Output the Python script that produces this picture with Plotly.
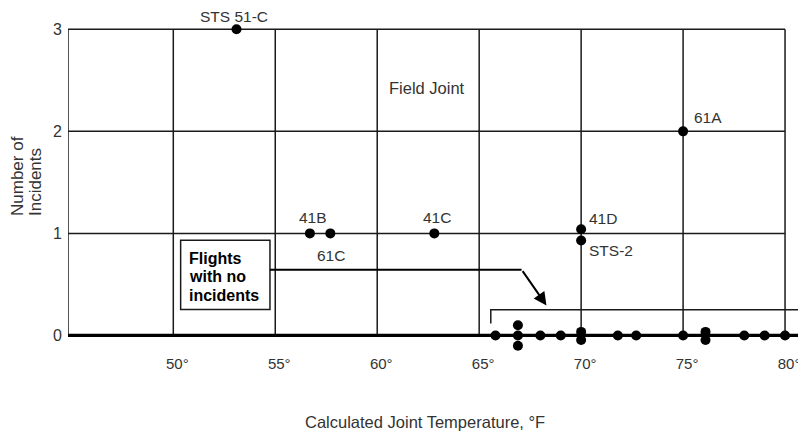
import plotly.graph_objects as go

# ---------------- data ----------------
x_ticks = [50, 55, 60, 65, 70, 75, 80]
x_tick_labels = ["50°", "55°", "60°", "65°", "70°", "75°", "80°"]
y_ticks = [0, 1, 2, 3]
y_tick_labels = ["0", "1", "2", "3"]

incident_flights = ["STS 51-C", "61A", "41B", "61C", "41C", "41D", "STS-2"]
incident_temps = [53.1, 75.0, 56.7, 57.7, 62.8, 70.0, 70.0]
incident_counts = [3, 2, 1, 1, 1, 1, 1]
incident_stack = [0, 0, 0, 0, 0, 0.04, -0.07]

zero_temps = [65.8, 66.9, 66.9, 66.9, 68.0, 69.0, 70.0, 70.0, 71.8, 72.7,
              75.0, 76.1, 76.1, 78.0, 79.0, 80.0, 80.9]
zero_counts = [0, 0, 0, 0, 0, 0, 0, 0, 0, 0, 0, 0, 0, 0, 0, 0, 0]
zero_stack = [0, 0.1, 0, -0.1, 0, 0, 0.035, -0.045, 0, 0,
              0, 0.035, -0.045, 0, 0, 0, 0]

# ---------------- layout constants ----------------
X_MIN, X_MAX = 44.836, 81.42
Y_MIN, Y_MAX = -0.162, 3.2087
FONT = "Liberation Sans, Arial, Helvetica, sans-serif"
TXT = "#333333"
INK = "#1a1a1a"

fig = go.Figure()

fig.add_trace(go.Scatter(
    x=zero_temps,
    y=[c + s for c, s in zip(zero_counts, zero_stack)],
    mode="markers", marker=dict(color="black", size=10),
    hoverinfo="x", showlegend=False))

fig.add_trace(go.Scatter(
    x=incident_temps,
    y=[c + s for c, s in zip(incident_counts, incident_stack)],
    mode="markers", marker=dict(color="black", size=10),
    text=incident_flights, hoverinfo="text+x+y", showlegend=False,
    cliponaxis=False))

shapes = []
grid_line = dict(color=INK, width=1.5)
top = max(y_ticks)
right = max(x_ticks)
# vertical grid lines (left border + ticks)
for xv in [X_MIN] + x_ticks:
    shapes.append(dict(type="line", xref="x", yref="y", x0=xv, x1=xv,
                       y0=0, y1=top, line=grid_line, layer="below"))
# horizontal grid lines
for yv in y_ticks[1:]:
    shapes.append(dict(type="line", xref="x", yref="y", x0=X_MIN, x1=right,
                       y0=yv, y1=yv, line=grid_line, layer="below"))
# thick zero baseline
shapes.append(dict(type="line", xref="x", yref="y", x0=X_MIN, x1=X_MAX,
                   y0=0, y1=0, line=dict(color="black", width=3.2), layer="below"))
# bracket over the no-incident flights
shapes.append(dict(type="path", xref="x", yref="y",
                   path=f"M 65.57,0.118 L 65.57,0.252 L {X_MAX},0.252",
                   line=dict(color=INK, width=1.5), layer="below"))
# callout box
shapes.append(dict(type="rect", xref="x", yref="y", x0=50.36, x1=54.74,
                   y0=0.255, y1=0.932, line=dict(color=INK, width=1.5),
                   fillcolor="white", layer="below"))
# connector from box
shapes.append(dict(type="line", xref="x", yref="y", x0=54.74, x1=67.08,
                   y0=0.645, y1=0.645, line=dict(color="black", width=2)))

annotations = []
label_place = {
    "STS 51-C": ("center", -3, 13),
    "61A": ("left", 9, 14),
    "41B": ("center", 3, 16),
    "61C": ("center", 1, -22),
    "41C": ("center", 3, 16),
    "41D": ("left", 6, 15),
    "STS-2": ("left", 6, -17),
}
for name, xv, yv in zip(incident_flights, incident_temps, incident_counts):
    xa, xs, ys = label_place[name]
    annotations.append(dict(x=xv, y=yv, xref="x", yref="y", text=name,
                            showarrow=False, xanchor=xa, yanchor="middle",
                            xshift=xs, yshift=ys,
                            font=dict(family=FONT, size=15.5, color=TXT)))

annotations.append(dict(x=62.44, y=2.425, xref="x", yref="y", text="Field Joint",
                        showarrow=False, font=dict(family=FONT, size=16.5, color=TXT)))

# box text, one line per annotation
for i, line in enumerate(["Flights", "with no", "incidents"]):
    annotations.append(dict(x=50.36, y=0.932, xref="x", yref="y", text=line,
                            showarrow=False, xanchor="left", yanchor="middle",
                            xshift=6, yshift=-18 - 18.6 * i,
                            font=dict(family=FONT, size=16, color="black",
                                      weight="bold")))

# arrow
annotations.append(dict(x=68.3, y=0.294, ax=67.08, ay=0.645, xref="x", yref="y",
                        axref="x", ayref="y", text="", showarrow=True,
                        arrowhead=2, arrowsize=1.3, arrowwidth=2,
                        arrowcolor="black"))

# axis titles
annotations.append(dict(x=0.4786, y=-0.2026, xref="paper", yref="paper",
                        text="Calculated Joint Temperature, °F", showarrow=False,
                        xanchor="center", yanchor="middle",
                        font=dict(family=FONT, size=16.5, color=TXT)))
for xp, line in [(-0.0684, "Number of"), (-0.0442, "Incidents")]:
    annotations.append(dict(x=xp, y=1.151, xref="paper", yref="y",
                            text=line, showarrow=False, textangle=-90,
                            xanchor="center", yanchor="bottom",
                            font=dict(family=FONT, size=17, color=TXT)))

fig.update_layout(
    width=806, height=434,
    margin=dict(l=60, r=0, t=0, b=90, autoexpand=False),
    paper_bgcolor="white", plot_bgcolor="white",
    shapes=shapes, annotations=annotations,
    xaxis=dict(range=[X_MIN, X_MAX], tickvals=x_ticks, ticktext=x_tick_labels,
               showgrid=False, zeroline=False, showline=False, ticks="",
               automargin=False,
               ticklabelstandoff=1, ticklabelshift=4,
               tickfont=dict(family=FONT, size=15, color=TXT), fixedrange=True),
    yaxis=dict(range=[Y_MIN, Y_MAX], tickvals=y_ticks, ticktext=y_tick_labels,
               showgrid=False, zeroline=False, showline=False, ticks="",
               automargin=False, ticklabelstandoff=5,
               tickfont=dict(family=FONT, size=16, color=TXT), fixedrange=True),
    font=dict(family=FONT, color=TXT),
)

fig.write_html("out.html")
